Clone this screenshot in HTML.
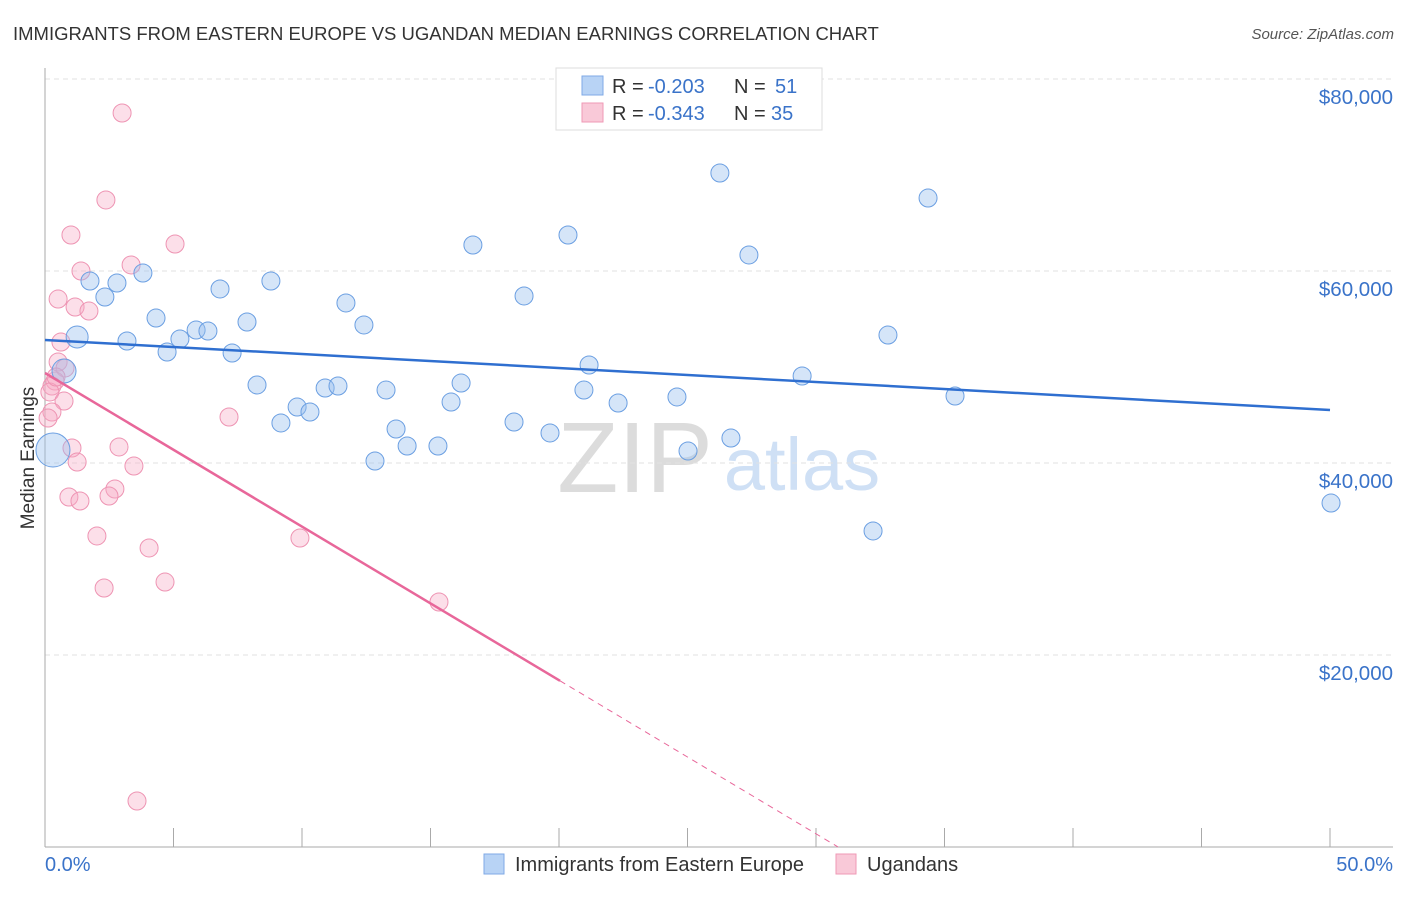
<!DOCTYPE html>
<html><head><meta charset="utf-8"><style>
body{margin:0;background:#fff;font-family:"Liberation Sans",sans-serif;}
svg text{font-family:"Liberation Sans",sans-serif;}
</style></head><body>
<svg id="chart" width="1406" height="892" xmlns="http://www.w3.org/2000/svg">
<text x="13" y="40" font-size="18.5" fill="#333">IMMIGRANTS FROM EASTERN EUROPE VS UGANDAN MEDIAN EARNINGS CORRELATION CHART</text>
<text x="1394" y="39" font-size="15" fill="#555" font-style="italic" text-anchor="end">Source: ZipAtlas.com</text>
<g>
<text x="635" y="492" font-size="100" fill="#dcdcdc" font-family="Liberation Serif" text-anchor="middle">ZIP</text>
<text x="802" y="490" font-size="74" fill="#cfe0f5" text-anchor="middle">atlas</text>
</g>
<g id="grid"></g>
<g id="axes"></g>
<g id="marks"></g>
<text x="34" y="458" font-size="19" fill="#333" text-anchor="middle" transform="rotate(-90 34 458)">Median Earnings</text>
<g>
<rect x="556" y="68" width="266" height="62" fill="#fff" stroke="#ddd"/>
<rect x="582" y="76" width="21" height="19" fill="#b8d3f5" stroke="#7fa9e6"/>
<text x="612" y="93" font-size="20" fill="#333">R =</text>
<text x="648" y="93" font-size="20" fill="#3a73c9">-0.203</text>
<text x="734" y="93" font-size="20" fill="#333">N =</text>
<text x="775" y="93" font-size="20" fill="#3a73c9">51</text>
<rect x="582" y="103" width="21" height="19" fill="#f9c9d8" stroke="#ef99b6"/>
<text x="612" y="120" font-size="20" fill="#333">R =</text>
<text x="648" y="120" font-size="20" fill="#3a73c9">-0.343</text>
<text x="734" y="120" font-size="20" fill="#333">N =</text>
<text x="771" y="120" font-size="20" fill="#3a73c9">35</text>
</g>
<g>
<rect x="484" y="854" width="20" height="20" fill="#b8d3f5" stroke="#7fa9e6"/>
<text x="515" y="871" font-size="20" fill="#333">Immigrants from Eastern Europe</text>
<rect x="836" y="854" width="20" height="20" fill="#f9c9d8" stroke="#ef99b6"/>
<text x="867" y="871" font-size="20" fill="#333">Ugandans</text>
</g>
</svg>
<script>
const yTicks=[20000,40000,60000,80000];
const yTickLabels=["$20,000","$40,000","$60,000","$80,000"];
const xTickLabels=["0.0%","50.0%"];
const blueX=[0.31,0.74,1.25,1.75,2.33,2.80,3.19,3.81,4.32,4.75,5.25,5.88,6.34,6.81,7.28,7.86,8.25,8.79,9.18,9.81,10.31,10.90,11.40,11.71,12.41,12.84,13.27,13.66,14.09,15.29,15.80,16.19,16.65,18.25,18.64,19.65,20.35,20.97,21.17,22.30,24.59,25.02,26.26,26.69,27.39,29.46,32.22,32.80,34.36,35.41,50.04];
const blueY=[41350,49580,53130,58960,57290,58750,52710,59790,55100,51560,52920,53850,53750,58130,51460,54690,48130,58960,44170,45830,45310,47810,48020,56670,54380,40210,47600,43540,41770,41770,46350,48330,62710,44270,57400,43130,63750,47600,50210,46250,46880,41250,70210,42600,61670,49060,32920,53330,67600,46980,35830];
const blueR=[17,12,11,9,9,9,9,9,9,9,9,9,9,9,9,9,9,9,9,9,9,9,9,9,9,9,9,9,9,9,9,9,9,9,9,9,9,9,9,9,9,9,9,9,9,9,9,9,9,9,9];
const pinkX=[3.00,2.37,1.01,5.06,1.40,3.35,0.51,1.17,1.71,0.62,0.51,0.78,0.39,0.27,0.19,0.74,0.27,0.12,7.16,1.05,2.88,1.25,3.46,0.93,1.36,2.72,2.49,2.02,4.05,9.92,2.30,4.67,15.33,3.58,0.43];
const pinkY=[76460,67400,63750,62810,60000,60630,57080,56250,55830,52600,50520,49900,48540,48020,47400,46460,45310,44690,44790,41560,41670,40100,39690,36460,36040,37290,36560,32400,31150,32190,26980,27600,25520,4790,48960];
const blueTrend=[52810,45520];
const pinkTrend=[49375,0];
const pinkZeroX=30.86, pinkSolidEnd=20.04;

const NS="http://www.w3.org/2000/svg";
const X0=45,X1=1330,Y0=847,YPER=192/20000;
const sx=v=>X0+(v/50)*(X1-X0);
const sy=v=>Y0-v*YPER;
function mk(tag,attrs,parent){const e=document.createElementNS(NS,tag);for(const k in attrs)e.setAttribute(k,attrs[k]);parent.appendChild(e);return e;}
const grid=document.getElementById('grid'),axes=document.getElementById('axes'),marks=document.getElementById('marks');
yTicks.forEach((t,i)=>{
  const l=mk('line',{x1:45,x2:1393,y1:sy(t),y2:sy(t),stroke:'#e2e2e2','stroke-dasharray':'5,4'},grid);
  
  
  const tx=mk('text',{x:1393,y:sy(t)+25,'font-size':20.5,fill:'#3a73c9','text-anchor':'end'},axes);
  tx.textContent=yTickLabels[i];
  
  
});
let a=mk('line',{x1:45,x2:45,y1:68,y2:847,stroke:'#aaa'},axes);


a=mk('line',{x1:45,x2:1393,y1:847,y2:847,stroke:'#aaa'},axes);


for(let p=0;p<=50;p+=5){
  const t=mk('line',{x1:sx(p),x2:sx(p),y1:828,y2:847,stroke:'#aaa'},axes);
  
  
}
let xl=mk('text',{x:45,y:871,'font-size':20,fill:'#3a73c9'},axes);xl.textContent=xTickLabels[0];


xl=mk('text',{x:1393,y:871,'font-size':20,fill:'#3a73c9','text-anchor':'end'},axes);xl.textContent=xTickLabels[1];



pinkX.forEach((x,i)=>{
  const c=mk('circle',{cx:sx(x),cy:sy(pinkY[i]),r:9,fill:'rgba(246,170,196,0.38)',stroke:'#ee94b3','stroke-width':1},marks);
  
  
});
blueX.forEach((x,i)=>{
  const c=mk('circle',{cx:sx(x),cy:sy(blueY[i]),r:blueR[i],fill:'rgba(150,190,238,0.4)',stroke:'#6b9fe2','stroke-width':1},marks);
  
  
});
let tl=mk('line',{x1:sx(0),y1:sy(blueTrend[0]),x2:sx(50),y2:sy(blueTrend[1]),stroke:'#2f6fd0','stroke-width':2.5},marks);


const pv=x=>pinkTrend[0]+(pinkTrend[1]-pinkTrend[0])*x/pinkZeroX;
tl=mk('line',{x1:sx(0),y1:sy(pv(0)),x2:sx(pinkSolidEnd),y2:sy(pv(pinkSolidEnd)),stroke:'#e8679a','stroke-width':2.5},marks);


tl=mk('line',{x1:sx(pinkSolidEnd),y1:sy(pv(pinkSolidEnd)),x2:sx(pinkZeroX),y2:sy(0),stroke:'#e8679a','stroke-width':1,'stroke-dasharray':'6,5'},marks);


</script>
</body></html>
